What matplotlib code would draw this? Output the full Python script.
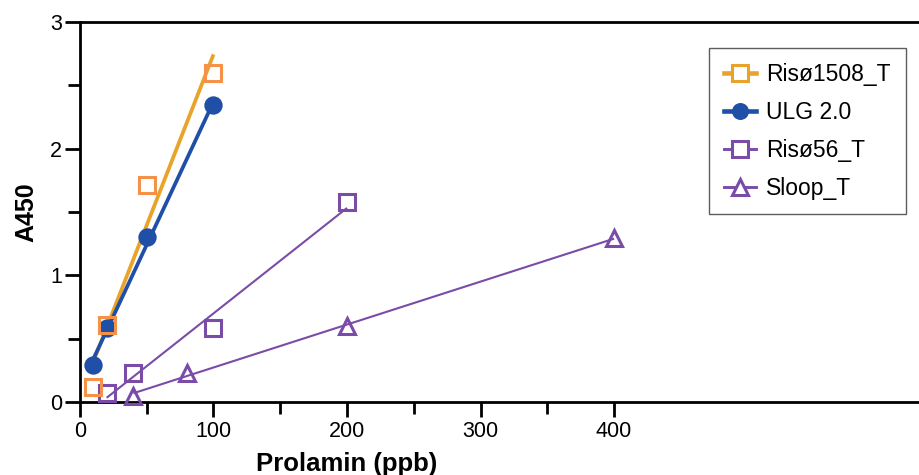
import numpy as np
import matplotlib
matplotlib.use("Agg")
import matplotlib.pyplot as plt
from matplotlib.lines import Line2D

plt.rcParams["font.family"] = ["Liberation Sans", "DejaVu Sans"]

# Prolamin concentrations (ppb) and A450 readings
risoe1508_x = [10, 20, 50, 100]
risoe1508_y = [0.12, 0.61, 1.71, 2.60]

ulg_x = [10, 20, 50, 100]
ulg_y = [0.29, 0.58, 1.30, 2.34]

risoe56_x = [20, 40, 100, 200]
risoe56_y = [0.07, 0.23, 0.58, 1.58]

sloop_x = [40, 80, 200, 400]
sloop_y = [0.05, 0.23, 0.60, 1.29]

series = [
    # name, x, y, line color, marker color, marker, filled, line width
    ("Risø1508_T", risoe1508_x, risoe1508_y, "#E9A32A", "#F5924A", "s", False, 2.7),
    ("ULG 2.0", ulg_x, ulg_y, "#1F4FA6", "#1F4FA6", "o", True, 2.7),
    ("Risø56_T", risoe56_x, risoe56_y, "#7A4CA8", "#7A4CA8", "s", False, 1.5),
    ("Sloop_T", sloop_x, sloop_y, "#7A4CA8", "#7A4CA8", "^", False, 1.5),
]

fig = plt.figure(figsize=(9.19, 4.75), dpi=100)
ax = fig.add_axes([0.087, 0.154, 0.93, 0.8])

# regression lines first, markers on top
for name, x, y, lc, mc, mk, filled, lw in series:
    x = np.array(x, dtype=float)
    y = np.array(y, dtype=float)
    k, b = np.polyfit(x, y, 1)
    xx = np.array([x.min(), x.max()])
    ax.plot(xx, k * xx + b, color=lc, lw=lw, zorder=2, solid_capstyle="butt")

handles = []
for name, x, y, lc, mc, mk, filled, lw in series[::-1]:
    ms = 11 if mk == "o" else 12
    ax.plot(x, y, linestyle="none", marker=mk, ms=ms,
            mfc=mc if filled else "none", mec=mc, mew=2.2,
            zorder=3, clip_on=False)
for name, x, y, lc, mc, mk, filled, lw in series:
    ms = 11 if mk == "o" else 12
    handles.append(Line2D([], [], color=lc, lw=lw + 0.6, marker=mk, ms=ms - 1,
                          mfc=lc if filled else "white", mec=lc, mew=2.2))

ax.set_xlim(0, 640)
ax.set_ylim(0, 3)
ax.set_xticks([0, 100, 200, 300, 400])
ax.set_xticks([50, 150, 250, 350], minor=True)
ax.set_yticks([0, 1, 2, 3])
ax.set_yticks([0.5, 1.5, 2.5], minor=True)

for s in ["top", "left", "bottom", "right"]:
    ax.spines[s].set_linewidth(2.0)
ax.tick_params(which="both", direction="out", width=2.0, labelsize=15.5)
ax.tick_params(which="major", length=11)
ax.tick_params(which="minor", length=8.5)
ax.tick_params(axis="x", which="both", pad=3)
ax.tick_params(axis="y", which="both", pad=2)

ax.set_xlabel("Prolamin (ppb)", fontsize=18.5, fontweight="bold")
ax.xaxis.set_label_coords(200 / 640, -0.132)
ax.set_ylabel("A450", fontsize=18, fontweight="bold", labelpad=8)

leg = fig.legend(handles, [s[0] for s in series], loc="upper left",
                 bbox_to_anchor=(0.7715, 0.899), borderaxespad=0,
                 fontsize=16.5, frameon=True, fancybox=False,
                 handlelength=1.4, handletextpad=0.45,
                 labelspacing=0.65, borderpad=0.65)
leg.get_frame().set_edgecolor("#333333")
leg.get_frame().set_linewidth(1.0)

fig.savefig("out.png", dpi=100)
